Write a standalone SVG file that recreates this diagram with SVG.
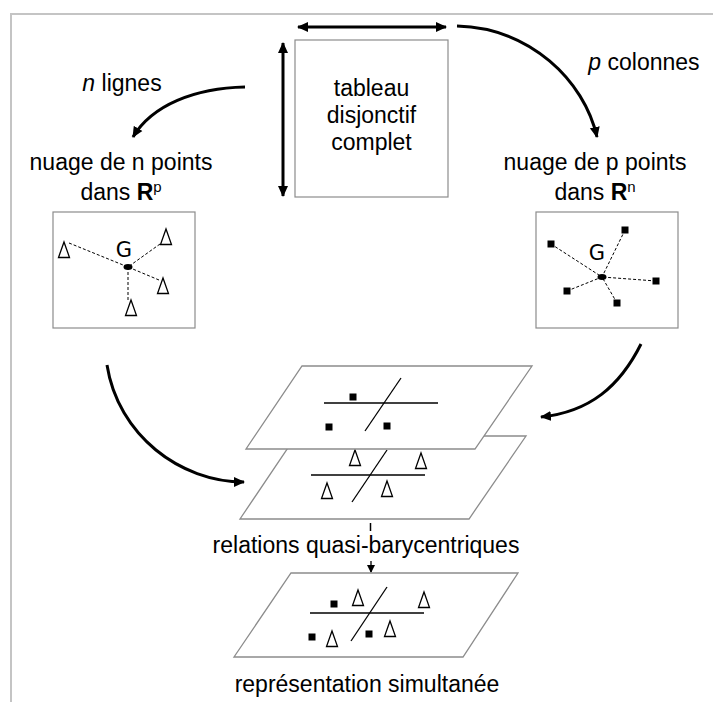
<svg xmlns="http://www.w3.org/2000/svg" width="713" height="702" viewBox="0 0 713 702">
<style>
.t{font-family:"Liberation Sans",Arial,sans-serif;font-size:23px;fill:#000;text-anchor:middle}
.g{font-family:"DejaVu Sans",sans-serif;font-size:21px;fill:#000;text-anchor:middle}
.box{fill:#fff;stroke:#8c8c8c;stroke-width:1.2}
.pl{fill:#fff;stroke:#8c8c8c;stroke-width:1.3}
.ax{stroke:#000;stroke-width:1.3;fill:none}
.ds{stroke:#000;stroke-width:1;stroke-dasharray:3,2;fill:none}
.tri{fill:#fff;stroke:#000;stroke-width:1.3}
.sq{fill:#000}
.arr{stroke:#000;stroke-width:3;fill:none}
</style>
<defs>
<marker id="ah" markerUnits="userSpaceOnUse" markerWidth="12" markerHeight="12" refX="10" refY="6" orient="auto-start-reverse">
<path d="M0,1 L11,6 L0,11 Z" fill="#000"/>
</marker>
<marker id="ahs" markerUnits="userSpaceOnUse" markerWidth="8" markerHeight="8" refX="7" refY="4" orient="auto">
<path d="M0,0 L8,4 L0,8 Z" fill="#000"/>
</marker>
<path id="tr" d="M0,0 L5.5,15.5 L-5.5,15.5 Z"/>
</defs>
<rect x="0" y="0" width="713" height="702" fill="#fff"/>
<path d="M11,702 L11,14 L713,14" fill="none" stroke="#c4c4c4" stroke-width="2"/>

<g id="connectors">
<line class="arr" x1="298" y1="27" x2="446" y2="27" marker-start="url(#ah)" marker-end="url(#ah)"/>
<line class="arr" x1="283" y1="43" x2="283" y2="196" marker-start="url(#ah)" marker-end="url(#ah)"/>
<path class="arr" d="M245,87 C195,88 152,105 133,137" marker-end="url(#ah)"/>
<path class="arr" d="M457,26 C530,28 584,80 597,137" marker-end="url(#ah)"/>
<path class="arr" d="M107,365 C118,435 180,482 244,482" marker-end="url(#ah)"/>
<path class="arr" d="M641,344 C620,386 590,412 541,417" marker-end="url(#ah)"/>
<line x1="370.5" y1="523" x2="370.5" y2="531" stroke="#000" stroke-width="1.5"/>
<line x1="371" y1="561" x2="371" y2="572" stroke="#000" stroke-width="1.3" marker-end="url(#ahs)"/>
</g>

<g id="tableau">
<rect class="box" x="295" y="40" width="153" height="157"/>
<text class="t" x="371.5" y="96">tableau</text>
<text class="t" x="371.5" y="123">disjonctif</text>
<text class="t" x="371.5" y="150">complet</text>
</g>

<g id="label-n">
<text class="t" x="122" y="91"><tspan font-style="italic">n</tspan> lignes</text>
</g>
<g id="label-p">
<text class="t" x="644" y="70"><tspan font-style="italic">p</tspan> colonnes</text>
</g>

<g id="nuage-n">
<text class="t" x="121" y="170">nuage de n points</text>
<text class="t" x="121" y="200">dans <tspan font-weight="bold">R</tspan><tspan font-size="15" dy="-8">p</tspan></text>
<rect class="box" x="53" y="212" width="142" height="116"/>
<text class="g" x="124" y="257">G</text>
<line class="ds" x1="69" y1="243" x2="128" y2="267"/>
<line class="ds" x1="160" y1="244" x2="128" y2="267"/>
<line class="ds" x1="159" y1="280" x2="128" y2="267"/>
<line class="ds" x1="128" y1="267" x2="128" y2="300"/>
<ellipse cx="128" cy="267" rx="4.5" ry="3" fill="#000"/>
<use href="#tr" class="tri" x="64" y="242"/>
<use href="#tr" class="tri" x="166" y="229"/>
<use href="#tr" class="tri" x="163" y="278"/>
<use href="#tr" class="tri" x="131" y="300"/>
</g>

<g id="nuage-p">
<text class="t" x="595" y="170">nuage de p points</text>
<text class="t" x="595" y="200">dans <tspan font-weight="bold">R</tspan><tspan font-size="15" dy="-8">n</tspan></text>
<rect class="box" x="536" y="212" width="142" height="116"/>
<text class="g" x="597" y="260">G</text>
<line class="ds" x1="551" y1="244" x2="602" y2="277"/>
<line class="ds" x1="625" y1="230" x2="602" y2="277"/>
<line class="ds" x1="656" y1="281" x2="602" y2="277"/>
<line class="ds" x1="617" y1="303" x2="602" y2="277"/>
<line class="ds" x1="567" y1="291" x2="602" y2="277"/>
<ellipse cx="602" cy="277" rx="4.5" ry="3" fill="#000"/>
<rect class="sq" x="547.5" y="240.5" width="7" height="7"/>
<rect class="sq" x="621.5" y="226.5" width="7" height="7"/>
<rect class="sq" x="652.5" y="277.5" width="7" height="7"/>
<rect class="sq" x="613.5" y="299.5" width="7" height="7"/>
<rect class="sq" x="563.5" y="287.5" width="7" height="7"/>
</g>

<g id="plan-individus">
<path class="pl" d="M296,436 L526,436 L469,519 L240,519 Z"/>
<line class="ax" x1="311" y1="475" x2="425" y2="475"/>
<line class="ax" x1="387" y1="450" x2="352" y2="502"/>
<use href="#tr" class="tri" x="355" y="450"/>
<use href="#tr" class="tri" x="421" y="453"/>
<use href="#tr" class="tri" x="327" y="483"/>
<use href="#tr" class="tri" x="387" y="481"/>
</g>

<g id="plan-modalites">
<path class="pl" d="M302,366 L532,366 L475,449 L246,449 Z"/>
<line class="ax" x1="324" y1="403" x2="438" y2="403"/>
<line class="ax" x1="401" y1="378" x2="365" y2="431"/>
<rect class="sq" x="349.5" y="393.5" width="7" height="7"/>
<rect class="sq" x="325.5" y="423.5" width="7" height="7"/>
<rect class="sq" x="383.5" y="422.5" width="7" height="7"/>
</g>

<g id="relations">
<text class="t" x="366" y="553">relations quasi-barycentriques</text>
</g>

<g id="representation">
<path class="pl" d="M291,573 L518,573 L463,657 L234,657 Z"/>
<line class="ax" x1="310" y1="613" x2="424" y2="613"/>
<line class="ax" x1="387" y1="587" x2="351" y2="641"/>
<rect class="sq" x="330.5" y="600.5" width="7" height="7"/>
<rect class="sq" x="308.5" y="633.5" width="7" height="7"/>
<rect class="sq" x="365.5" y="630.5" width="7" height="7"/>
<use href="#tr" class="tri" x="358" y="590"/>
<use href="#tr" class="tri" x="424" y="592"/>
<use href="#tr" class="tri" x="332" y="631"/>
<use href="#tr" class="tri" x="390" y="621"/>
<text class="t" x="367" y="692">représentation simultanée</text>
</g>
</svg>
